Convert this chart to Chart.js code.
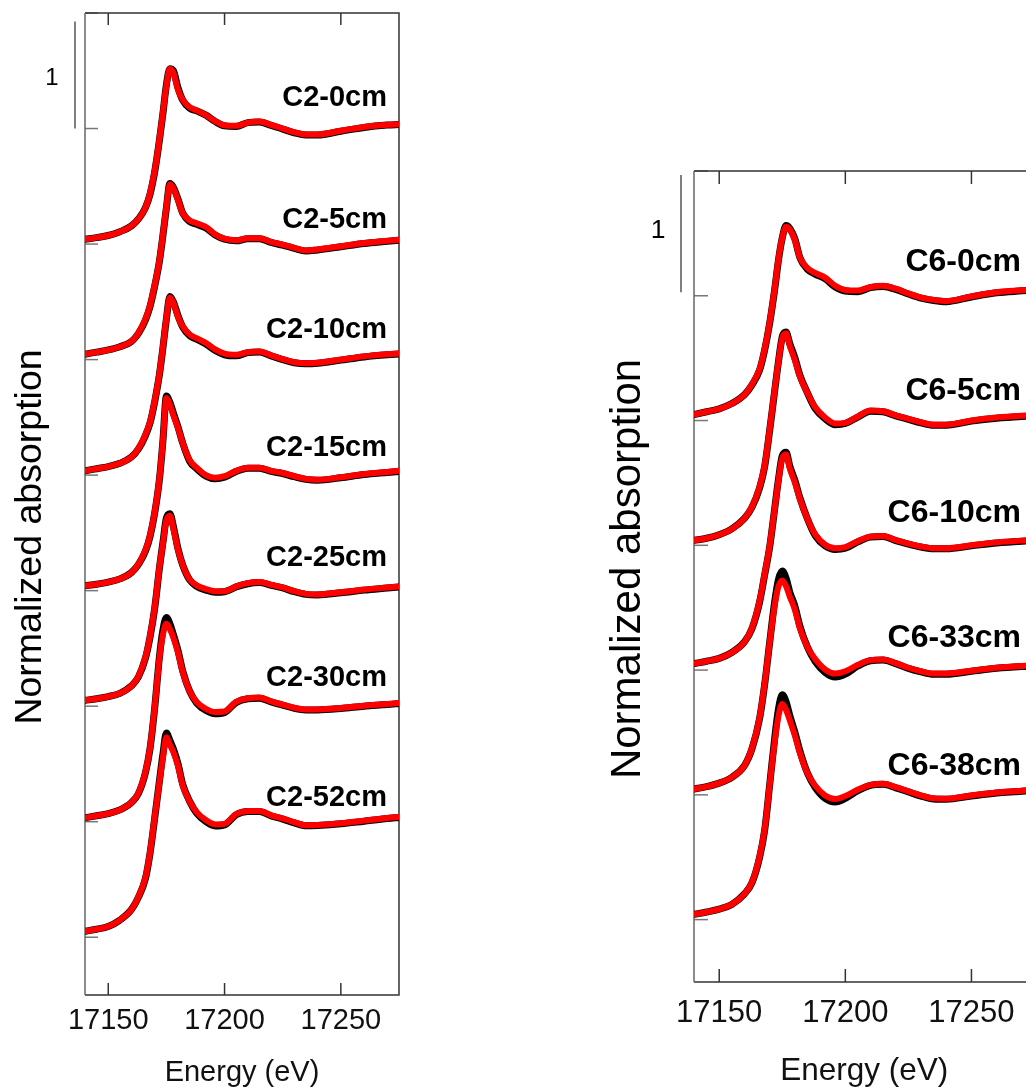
<!DOCTYPE html>
<html><head><meta charset="utf-8">
<script src="https://cdn.jsdelivr.net/npm/chart.js@4.4.1/dist/chart.umd.min.js"></script>
<style>
html,body{margin:0;padding:0;overflow:hidden;background:#fff;width:1026px;height:1091px;position:relative}
#cl{position:absolute;left:0;top:0}
#cr{position:absolute;left:560px;top:0}
</style></head>
<body>
<canvas id="cl" width="430" height="1091"></canvas>
<canvas id="cr" width="500" height="1091"></canvas>
<script>
// ---------- data ----------
const energy = [17140, 17145, 17150, 17155, 17160, 17163, 17166, 17168, 17170, 17172, 17173.5, 17175, 17176.5, 17178, 17180, 17182, 17185, 17188, 17192, 17196, 17200, 17205, 17210, 17215, 17220, 17225, 17230, 17235, 17240, 17250, 17260, 17270, 17275];
const xTickValues = [17150, 17200, 17250];

const c2Names = ['C2-0cm', 'C2-5cm', 'C2-10cm', 'C2-15cm', 'C2-25cm', 'C2-30cm', 'C2-52cm'];
const c6Names = ['C6-0cm', 'C6-5cm', 'C6-10cm', 'C6-33cm', 'C6-38cm'];

// black = measured spectrum, red = fit (normalized, each relative to its own baseline)
const c2_0_data  = [0.044, 0.06, 0.08, 0.115, 0.17, 0.235, 0.34, 0.47, 0.68, 0.97, 1.22, 1.49, 1.64, 1.62, 1.46, 1.345, 1.27, 1.245, 1.205, 1.145, 1.105, 1.10, 1.135, 1.14, 1.11, 1.075, 1.04, 1.02, 1.02, 1.055, 1.09, 1.112, 1.118];
const c2_0_fit   = [0.044, 0.06, 0.08, 0.115, 0.17, 0.235, 0.34, 0.48, 0.69, 0.98, 1.23, 1.48, 1.64, 1.60, 1.44, 1.35, 1.28, 1.25, 1.205, 1.15, 1.11, 1.105, 1.135, 1.145, 1.115, 1.08, 1.045, 1.025, 1.025, 1.06, 1.095, 1.115, 1.12];
const c2_5_data  = [0.05, 0.07, 0.09, 0.12, 0.17, 0.245, 0.37, 0.50, 0.69, 0.92, 1.16, 1.42, 1.645, 1.61, 1.50, 1.37, 1.29, 1.265, 1.23, 1.165, 1.125, 1.11, 1.13, 1.13, 1.095, 1.07, 1.04, 1.015, 1.025, 1.055, 1.085, 1.105, 1.115];
const c2_5_fit   = [0.05, 0.07, 0.09, 0.12, 0.17, 0.25, 0.38, 0.51, 0.70, 0.93, 1.17, 1.43, 1.64, 1.60, 1.49, 1.37, 1.30, 1.275, 1.24, 1.17, 1.13, 1.115, 1.135, 1.135, 1.10, 1.075, 1.045, 1.02, 1.03, 1.06, 1.09, 1.11, 1.12];
const c2_10_data = [0.04, 0.06, 0.08, 0.11, 0.17, 0.245, 0.37, 0.49, 0.69, 0.94, 1.19, 1.46, 1.67, 1.62, 1.49, 1.385, 1.305, 1.27, 1.225, 1.165, 1.125, 1.115, 1.145, 1.15, 1.115, 1.08, 1.05, 1.04, 1.045, 1.075, 1.105, 1.125, 1.132];
const c2_10_fit  = [0.04, 0.06, 0.08, 0.11, 0.17, 0.25, 0.38, 0.50, 0.70, 0.95, 1.20, 1.47, 1.66, 1.61, 1.48, 1.39, 1.315, 1.28, 1.235, 1.175, 1.135, 1.125, 1.15, 1.155, 1.12, 1.085, 1.055, 1.045, 1.05, 1.08, 1.11, 1.13, 1.137];
const c2_15_data = [0.045, 0.06, 0.08, 0.11, 0.17, 0.245, 0.37, 0.51, 0.73, 1.04, 1.40, 1.82, 1.76, 1.66, 1.53, 1.38, 1.21, 1.14, 1.07, 1.045, 1.06, 1.115, 1.145, 1.145, 1.115, 1.095, 1.065, 1.04, 1.032, 1.055, 1.085, 1.105, 1.115];
const c2_15_fit  = [0.045, 0.06, 0.08, 0.11, 0.17, 0.25, 0.38, 0.52, 0.74, 1.05, 1.40, 1.80, 1.74, 1.64, 1.52, 1.38, 1.22, 1.15, 1.08, 1.055, 1.07, 1.12, 1.15, 1.15, 1.12, 1.10, 1.07, 1.045, 1.037, 1.06, 1.09, 1.11, 1.12];
const c2_25_data = [0.054, 0.07, 0.09, 0.12, 0.19, 0.275, 0.45, 0.65, 0.92, 1.29, 1.53, 1.76, 1.80, 1.68, 1.47, 1.32, 1.18, 1.12, 1.085, 1.065, 1.07, 1.115, 1.145, 1.155, 1.13, 1.105, 1.07, 1.045, 1.04, 1.06, 1.085, 1.105, 1.115];
const c2_25_fit  = [0.054, 0.07, 0.09, 0.12, 0.19, 0.28, 0.46, 0.66, 0.93, 1.30, 1.52, 1.74, 1.78, 1.66, 1.46, 1.32, 1.185, 1.13, 1.095, 1.075, 1.075, 1.12, 1.15, 1.16, 1.135, 1.11, 1.075, 1.05, 1.045, 1.065, 1.09, 1.11, 1.12];
const c2_30_data = [0.037, 0.055, 0.075, 0.11, 0.18, 0.265, 0.46, 0.69, 1.07, 1.54, 1.79, 1.91, 1.85, 1.75, 1.60, 1.41, 1.22, 1.11, 1.04, 1.01, 1.02, 1.115, 1.15, 1.155, 1.12, 1.09, 1.06, 1.045, 1.045, 1.058, 1.08, 1.095, 1.105];
const c2_30_fit  = [0.037, 0.055, 0.075, 0.11, 0.18, 0.27, 0.47, 0.70, 1.08, 1.53, 1.75, 1.85, 1.80, 1.72, 1.58, 1.40, 1.22, 1.12, 1.055, 1.025, 1.03, 1.12, 1.155, 1.16, 1.125, 1.095, 1.065, 1.05, 1.05, 1.063, 1.085, 1.10, 1.11];
const c2_52_data = [0.056, 0.075, 0.10, 0.16, 0.26, 0.375, 0.55, 0.79, 1.12, 1.46, 1.71, 1.91, 1.84, 1.76, 1.62, 1.43, 1.27, 1.16, 1.08, 1.04, 1.05, 1.145, 1.175, 1.175, 1.135, 1.105, 1.07, 1.042, 1.045, 1.06, 1.085, 1.11, 1.12];
const c2_52_fit  = [0.056, 0.075, 0.10, 0.16, 0.26, 0.38, 0.56, 0.80, 1.13, 1.45, 1.68, 1.87, 1.80, 1.73, 1.60, 1.42, 1.27, 1.17, 1.095, 1.055, 1.06, 1.15, 1.18, 1.18, 1.14, 1.11, 1.075, 1.047, 1.05, 1.065, 1.09, 1.115, 1.124];

const c6_0_data  = [0.05, 0.075, 0.10, 0.145, 0.22, 0.305, 0.43, 0.60, 0.83, 1.12, 1.37, 1.56, 1.665, 1.64, 1.55, 1.39, 1.29, 1.25, 1.21, 1.14, 1.105, 1.10, 1.135, 1.145, 1.12, 1.08, 1.045, 1.025, 1.015, 1.055, 1.09, 1.107, 1.115];
const c6_0_fit   = [0.05, 0.075, 0.10, 0.145, 0.22, 0.31, 0.44, 0.61, 0.84, 1.13, 1.38, 1.56, 1.655, 1.63, 1.54, 1.39, 1.30, 1.26, 1.22, 1.15, 1.115, 1.11, 1.14, 1.15, 1.125, 1.085, 1.05, 1.03, 1.02, 1.06, 1.095, 1.112, 1.12];
const c6_5_data  = [0.043, 0.06, 0.09, 0.14, 0.23, 0.325, 0.49, 0.67, 0.98, 1.32, 1.57, 1.78, 1.82, 1.72, 1.60, 1.45, 1.30, 1.17, 1.08, 1.03, 1.04, 1.095, 1.145, 1.14, 1.105, 1.075, 1.045, 1.025, 1.025, 1.06, 1.085, 1.10, 1.105];
const c6_5_fit   = [0.043, 0.06, 0.09, 0.14, 0.23, 0.33, 0.50, 0.68, 0.99, 1.33, 1.57, 1.77, 1.81, 1.70, 1.58, 1.44, 1.30, 1.18, 1.09, 1.04, 1.045, 1.10, 1.15, 1.145, 1.11, 1.08, 1.05, 1.03, 1.03, 1.065, 1.09, 1.105, 1.11];
const c6_10_data = [0.055, 0.075, 0.10, 0.15, 0.24, 0.355, 0.58, 0.81, 1.05, 1.38, 1.63, 1.83, 1.86, 1.74, 1.62, 1.47, 1.29, 1.15, 1.06, 1.03, 1.04, 1.095, 1.135, 1.14, 1.105, 1.075, 1.05, 1.035, 1.035, 1.06, 1.085, 1.10, 1.105];
const c6_10_fit  = [0.055, 0.075, 0.10, 0.15, 0.24, 0.36, 0.59, 0.82, 1.06, 1.38, 1.62, 1.81, 1.84, 1.72, 1.60, 1.46, 1.29, 1.16, 1.07, 1.04, 1.05, 1.10, 1.14, 1.145, 1.11, 1.08, 1.055, 1.04, 1.04, 1.065, 1.09, 1.105, 1.11];
const c6_33_data = [0.05, 0.07, 0.10, 0.15, 0.25, 0.395, 0.65, 0.94, 1.30, 1.65, 1.84, 1.91, 1.85, 1.73, 1.61, 1.44, 1.26, 1.14, 1.045, 1.005, 1.03, 1.10, 1.145, 1.15, 1.12, 1.08, 1.05, 1.03, 1.03, 1.055, 1.08, 1.095, 1.10];
const c6_33_fit  = [0.05, 0.07, 0.10, 0.15, 0.25, 0.40, 0.66, 0.95, 1.30, 1.62, 1.78, 1.83, 1.78, 1.69, 1.58, 1.42, 1.26, 1.16, 1.07, 1.035, 1.055, 1.11, 1.15, 1.155, 1.125, 1.085, 1.055, 1.036, 1.036, 1.06, 1.085, 1.10, 1.105];
const c6_38_data = [0.045, 0.065, 0.09, 0.13, 0.22, 0.315, 0.53, 0.76, 1.15, 1.55, 1.80, 1.92, 1.86, 1.74, 1.60, 1.44, 1.25, 1.13, 1.035, 1.005, 1.035, 1.10, 1.145, 1.155, 1.125, 1.09, 1.055, 1.03, 1.027, 1.055, 1.08, 1.095, 1.105];
const c6_38_fit  = [0.045, 0.065, 0.09, 0.13, 0.22, 0.32, 0.54, 0.77, 1.15, 1.52, 1.74, 1.84, 1.79, 1.70, 1.57, 1.42, 1.25, 1.145, 1.06, 1.03, 1.055, 1.11, 1.15, 1.16, 1.13, 1.095, 1.06, 1.035, 1.032, 1.06, 1.085, 1.10, 1.11];

const c2Data = [c2_0_data, c2_5_data, c2_10_data, c2_15_data, c2_25_data, c2_30_data, c2_52_data];
const c2Fit  = [c2_0_fit, c2_5_fit, c2_10_fit, c2_15_fit, c2_25_fit, c2_30_fit, c2_52_fit];
const c6Data = [c6_0_data, c6_5_data, c6_10_data, c6_33_data, c6_38_data];
const c6Fit  = [c6_0_fit, c6_5_fit, c6_10_fit, c6_33_fit, c6_38_fit];

// ---------- drawing ----------
const FONT = "'Liberation Sans', Arial, Helvetica, sans-serif";

const decor = {
  id: 'decor',
  beforeDatasetsDraw(chart, args, o) {
    const {ctx, chartArea: a, scales: {x, y}} = chart;
    ctx.save();
    ctx.lineWidth = 1.5;
    ctx.strokeStyle = '#777';
    for (let k = 0; k <= o.nTicks; k++) {
      const py = y.getPixelForValue(k * o.step);
      ctx.beginPath(); ctx.moveTo(a.left, py); ctx.lineTo(a.left + o.yTickLen, py); ctx.stroke();
    }
    ctx.strokeStyle = '#333';
    for (const v of xTickValues) {
      const px = x.getPixelForValue(v);
      ctx.beginPath(); ctx.moveTo(px, a.bottom); ctx.lineTo(px, a.bottom - o.xTickLen); ctx.stroke();
      ctx.beginPath(); ctx.moveTo(px, a.top); ctx.lineTo(px, a.top + o.xTickLen); ctx.stroke();
    }
    ctx.strokeStyle = '#333';
    ctx.beginPath();
    ctx.moveTo(a.left, a.top); ctx.lineTo(a.right, a.top); ctx.lineTo(a.right, a.bottom); ctx.lineTo(a.left, a.bottom);
    ctx.stroke();
    ctx.strokeStyle = '#666';
    ctx.beginPath(); ctx.moveTo(a.left, a.top); ctx.lineTo(a.left, a.bottom); ctx.stroke();
    ctx.restore();
  },
  afterDatasetsDraw(chart, args, o) {
    const {ctx, chartArea: a, scales: {y}} = chart;
    ctx.save();
    ctx.fillStyle = '#000';
    ctx.font = 'bold ' + o.labelSize + 'px ' + FONT;
    ctx.textAlign = 'right';
    ctx.textBaseline = 'alphabetic';
    const n = o.names.length;
    o.names.forEach((name, i) => {
      const k = n - 1 - i;
      const cy = y.getPixelForValue(k * o.step + o.labelRise[i]);
      ctx.fillText(name, a.right - o.labelInset, cy + 0.358 * o.labelSize);
    });
    const b0 = y.getPixelForValue(o.nTicks * o.step - o.step + o.barShift);
    const b1 = y.getPixelForValue(o.nTicks * o.step - o.step + o.barShift + 1);
    const bx = a.left - o.barGap;
    ctx.strokeStyle = '#555';
    ctx.lineWidth = 1.5;
    ctx.beginPath(); ctx.moveTo(bx, b0); ctx.lineTo(bx, b1); ctx.stroke();
    ctx.font = o.oneSize + 'px ' + FONT;
    ctx.textAlign = 'center';
    ctx.fillText('1', o.oneX, o.oneY + 0.358 * o.oneSize);
    ctx.translate(o.titleX, o.titleY);
    ctx.rotate(-Math.PI / 2);
    ctx.font = o.titleSize + 'px ' + FONT;
    ctx.textAlign = 'center';
    ctx.textBaseline = 'alphabetic';
    ctx.fillText('Normalized absorption', 0, 0);
    ctx.restore();
  }
};

function buildDatasets(dataArr, fitArr, step) {
  const n = dataArr.length;
  const sets = [];
  dataArr.forEach((vals, i) => {
    const k = n - 1 - i;
    sets.push({
      data: energy.map((e, j) => ({x: e, y: vals[j] + k * step})),
      borderColor: '#000', borderWidth: 7, order: 2
    });
    sets.push({
      data: energy.map((e, j) => ({x: e, y: fitArr[i][j] + k * step})),
      borderColor: '#ff0000', borderWidth: 6, order: 1
    });
  });
  sets.forEach(s => Object.assign(s, {pointRadius: 0, fill: false, cubicInterpolationMode: 'monotone', borderCapStyle: 'round', borderJoinStyle: 'round'}));
  return sets;
}

function makeChart(id, p) {
  return new Chart(document.getElementById(id), {
    type: 'line',
    data: {datasets: buildDatasets(p.data, p.fit, p.step)},
    plugins: [decor],
    options: {
      responsive: false, animation: false, events: [],
      layout: {padding: p.padding},
      plugins: {legend: {display: false}, tooltip: {enabled: false}, decor: p.decor},
      scales: {
        x: {
          type: 'linear', min: 17140, max: 17275,
          afterBuildTicks: s => { s.ticks = xTickValues.map(v => ({value: v})); },
          afterFit: s => { s.height = p.xHeight; },
          grid: {display: false, drawTicks: false}, border: {display: false},
          ticks: {font: {family: FONT, size: p.tickSize}, color: '#111', padding: p.tickPad, maxRotation: 0, autoSkip: false, callback: v => String(v)},
          title: {display: true, text: 'Energy (eV)', color: '#111', font: {family: FONT, size: p.xTitleSize}, padding: {top: 0, bottom: p.xTitlePad}}
        },
        y: {type: 'linear', display: false, min: -0.5 * p.step, max: p.decor.nTicks * p.step}
      }
    }
  });
}

makeChart('cl', {
  data: c2Data, fit: c2Fit, step: 1.08,
  padding: {left: 85, right: 31, top: 13, bottom: 0},
  xHeight: 96, tickSize: 29, tickPad: 9, xTitleSize: 29, xTitlePad: 1,
  decor: {
    step: 1.08, nTicks: 8, yTickLen: 13, xTickLen: 12,
    names: c2Names, labelSize: 29, labelInset: 12,
    labelRise: [1.39, 1.33, 1.383, 1.357, 1.406, 1.369, 1.327],
    barGap: 10, barShift: 0, oneX: 52, oneY: 76, oneSize: 24,
    titleX: 41, titleY: 537, titleSize: 37.5
  }
});

makeChart('cr', {
  data: c6Data, fit: c6Fit, step: 1.065,
  padding: {left: 134, right: 25.5, top: 171, bottom: 0},
  xHeight: 109, tickSize: 31, tickPad: 12.5, xTitleSize: 31.5, xTitlePad: 1,
  decor: {
    step: 1.065, nTicks: 6, yTickLen: 14, xTickLen: 13,
    names: c6Names, labelSize: 32, labelInset: 13.5,
    labelRise: [1.375, 1.342, 1.36, 1.357, 1.331],
    barGap: 13, barShift: 0.03, oneX: 98, oneY: 229, oneSize: 26.5,
    titleX: 80, titleY: 569, titleSize: 42
  }
});
</script>
</body></html>
